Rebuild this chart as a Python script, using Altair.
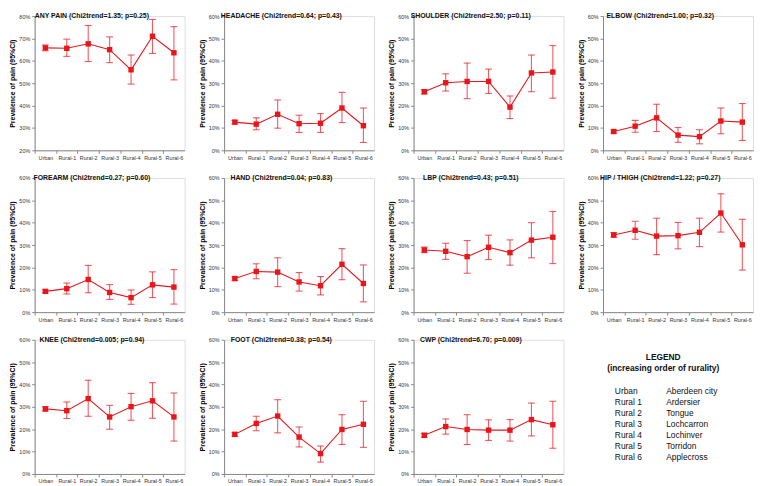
import altair as alt
import pandas as pd

categories = ["Urban", "Rural-1", "Rural-2", "Rural-3", "Rural-4", "Rural-5", "Rural-6"]

titles = [
    "ANY PAIN (Chi2trend=1.35; p=0.25)",
    "HEADACHE (Chi2trend=0.64; p=0.43)",
    "SHOULDER (Chi2trend=2.50; p=0.11)",
    "ELBOW (Chi2trend=1.00; p=0.32)",
    "FOREARM (Chi2trend=0.27; p=0.60)",
    "HAND (Chi2trend=0.04; p=0.83)",
    "LBP (Chi2trend=0.43; p=0.51)",
    "HIP / THIGH (Chi2trend=1.22; p=0.27)",
    "KNEE (Chi2trend=0.005; p=0.94)",
    "FOOT (Chi2trend=0.38; p=0.54)",
    "CWP (Chi2trend=6.70; p=0.009)",
]

any_pain_est = [65.8, 65.6, 67.6, 65.0, 56.0, 71.0, 63.6]
any_pain_lo = [64.5, 62.0, 59.7, 59.2, 49.6, 63.3, 51.5]
any_pain_hi = [67.1, 69.7, 75.8, 70.7, 62.6, 78.5, 75.3]

headache_est = [12.6, 11.7, 16.1, 11.9, 12.1, 18.9, 11.0]
headache_lo = [11.8, 9.2, 9.9, 8.0, 8.0, 12.4, 3.5]
headache_hi = [13.4, 14.5, 22.5, 15.7, 16.4, 25.9, 18.9]

shoulder_est = [26.2, 30.2, 30.8, 30.8, 19.3, 34.6, 35.0]
shoulder_lo = [25.2, 26.5, 23.1, 25.4, 14.2, 26.2, 23.3]
shoulder_hi = [27.1, 34.2, 39.0, 36.3, 24.3, 42.6, 46.8]

elbow_est = [8.4, 10.8, 14.5, 6.8, 6.1, 13.1, 12.6]
elbow_lo = [7.7, 8.1, 8.4, 3.6, 2.9, 7.4, 4.4]
elbow_hi = [9.1, 13.4, 20.6, 10.2, 9.2, 18.9, 20.9]

forearm_est = [9.3, 10.5, 14.6, 8.8, 6.5, 12.2, 11.2]
forearm_lo = [8.6, 8.1, 8.7, 5.7, 3.5, 6.5, 3.6]
forearm_hi = [10.0, 13.0, 20.9, 12.3, 9.9, 18.0, 19.0]

hand_est = [15.0, 18.2, 17.9, 13.5, 11.8, 21.4, 12.8]
hand_lo = [14.2, 14.9, 11.4, 9.4, 7.7, 14.5, 4.6]
hand_hi = [15.8, 21.6, 24.3, 17.7, 15.9, 28.4, 21.1]

lbp_est = [27.8, 27.2, 24.8, 29.0, 26.6, 32.2, 33.5]
lbp_lo = [26.6, 23.6, 17.4, 23.5, 21.0, 24.3, 21.7]
lbp_hi = [29.1, 30.8, 32.0, 34.4, 32.3, 40.0, 45.0]

hip_est = [34.5, 36.6, 34.0, 34.2, 35.7, 44.3, 30.1]
hip_lo = [33.5, 32.6, 25.7, 28.3, 29.3, 35.8, 18.8]
hip_hi = [35.6, 40.6, 42.0, 40.1, 42.0, 52.9, 41.5]

knee_est = [29.1, 28.3, 33.7, 25.5, 30.1, 32.7, 25.5]
knee_lo = [28.1, 24.8, 25.8, 20.0, 24.0, 24.9, 14.7]
knee_hi = [30.1, 32.2, 41.9, 30.7, 36.0, 40.8, 36.2]

foot_est = [17.7, 22.6, 25.9, 16.5, 9.1, 19.9, 22.2]
foot_lo = [16.8, 19.3, 18.4, 12.1, 5.3, 13.2, 11.9]
foot_hi = [18.6, 25.8, 33.2, 21.0, 12.5, 26.5, 32.5]

cwp_est = [17.3, 21.2, 19.9, 19.6, 19.6, 24.3, 22.0]
cwp_lo = [16.4, 17.8, 13.2, 15.0, 14.7, 17.0, 11.5]
cwp_hi = [18.2, 24.6, 26.5, 24.2, 24.3, 31.7, 32.5]

y_domains = [[20, 80]] + [[0, 60]] * 10

legend_codes = ["Urban", "Rural 1", "Rural 2", "Rural 3", "Rural 4", "Rural 5", "Rural 6"]
legend_places = ["Aberdeen city", "Ardersier", "Tongue", "Lochcarron", "Lochinver", "Torridon", "Applecross"]
legend_heading = ["LEGEND", "(increasing order of rurality)"]

series = [
    (any_pain_est, any_pain_lo, any_pain_hi),
    (headache_est, headache_lo, headache_hi),
    (shoulder_est, shoulder_lo, shoulder_hi),
    (elbow_est, elbow_lo, elbow_hi),
    (forearm_est, forearm_lo, forearm_hi),
    (hand_est, hand_lo, hand_hi),
    (lbp_est, lbp_lo, lbp_hi),
    (hip_est, hip_lo, hip_hi),
    (knee_est, knee_lo, knee_hi),
    (foot_est, foot_lo, foot_hi),
    (cwp_est, cwp_lo, cwp_hi),
]

RED = "#e8161c"
FONT = "Liberation Sans"
W = 152
H = 136
STEP = W / len(categories)


def panel(title, est, lo, hi, dom):
    df = pd.DataFrame({"site": categories, "est": est, "lo": lo, "hi": hi})
    base = alt.Chart(df)
    xenc = alt.X(
        "site:N",
        sort=categories,
        scale=alt.Scale(type="point", padding=0.5),
        axis=alt.Axis(
            title=None,
            labelAngle=0,
            tickOffset=-STEP / 2,
            labelOffset=STEP / 2,
            labelFontSize=5.5,
            labelColor="#333333",
            labelFont=FONT,
            tickSize=3,
            labelPadding=2,
        ),
    )
    yscale = alt.Scale(domain=dom, nice=False, zero=False)
    yaxis = alt.Axis(
        title="Prevalence of pain (95%CI)",
        values=list(range(dom[0], dom[1] + 1, 10)),
        labelExpr="datum.value + '%'",
        labelFontSize=5.5,
        labelColor="#333333",
        labelFont=FONT,
        titleFont=FONT,
        titleFontSize=7,
        titleFontWeight="bold",
        titlePadding=3,
        tickSize=3,
        labelPadding=2,
        grid=False,
    )
    line = base.mark_line(color=RED, strokeWidth=1.1).encode(
        x=xenc, y=alt.Y("est:Q", scale=yscale, axis=yaxis)
    )
    rule = base.mark_rule(color=RED, opacity=0.7, strokeWidth=1.1).encode(
        x=xenc, y=alt.Y("lo:Q", scale=yscale, axis=yaxis), y2="hi:Q"
    )
    cap_lo = base.mark_tick(color=RED, opacity=0.7, thickness=1.1, size=7).encode(
        x=xenc, y=alt.Y("lo:Q", scale=yscale, axis=yaxis)
    )
    cap_hi = base.mark_tick(color=RED, opacity=0.7, thickness=1.1, size=7).encode(
        x=xenc, y=alt.Y("hi:Q", scale=yscale, axis=yaxis)
    )
    pts = base.mark_square(color=RED, filled=True, opacity=1, size=30).encode(
        x=xenc, y=alt.Y("est:Q", scale=yscale, axis=yaxis)
    )
    ttl = alt.Chart(pd.DataFrame({"t": [title]})).mark_text(
        font=FONT, fontSize=7, fontWeight="bold", align="center", baseline="middle", color="#111111"
    ).encode(x=alt.value(W / 2 - 18), y=alt.value(0), text="t:N")
    return alt.layer(line, rule, cap_lo, cap_hi, pts, ttl).properties(width=W, height=H)


def legend_panel():
    ydom = [-4.636, 7.545]
    yscale = alt.Scale(domain=ydom, reverse=True, nice=False, zero=False)
    head = pd.DataFrame({"t": legend_heading, "k": [-3.09, -2.09]})
    rows = pd.DataFrame(
        {"code": legend_codes, "place": legend_places, "k": list(range(len(legend_codes)))}
    )
    h = alt.Chart(head).mark_text(
        font=FONT, fontSize=8.5, fontWeight="bold", align="center", baseline="middle", color="#111111"
    ).encode(x=alt.value(88), y=alt.Y("k:Q", scale=yscale, axis=None), text="t:N")
    c1 = alt.Chart(rows).mark_text(
        font=FONT, fontSize=8.5, align="left", baseline="middle", color="#111111"
    ).encode(x=alt.value(39), y=alt.Y("k:Q", scale=yscale, axis=None), text="code:N")
    c2 = alt.Chart(rows).mark_text(
        font=FONT, fontSize=8.5, align="left", baseline="middle", color="#111111"
    ).encode(x=alt.value(91), y=alt.Y("k:Q", scale=yscale, axis=None), text="place:N")
    return alt.layer(h, c1, c2).properties(
        width=W + 22, height=H, view=alt.ViewBackground(stroke="transparent", strokeWidth=0)
    )


panels = [panel(t, *s, d) for t, s, d in zip(titles, series, y_domains)]
panels.append(legend_panel())

rows = [alt.hconcat(*panels[i:i + 4], spacing=12) for i in range(0, 12, 4)]
chart = (
    alt.vconcat(*rows, spacing=12)
    .properties(padding=0)
    .configure_view(strokeWidth=0, stroke="transparent")
    .configure_axis(domainColor="#000000", tickColor="#000000", domainWidth=1)
    .configure(background="white")
)

chart.save("out.html", embed_options={"renderer": "svg", "actions": False})
